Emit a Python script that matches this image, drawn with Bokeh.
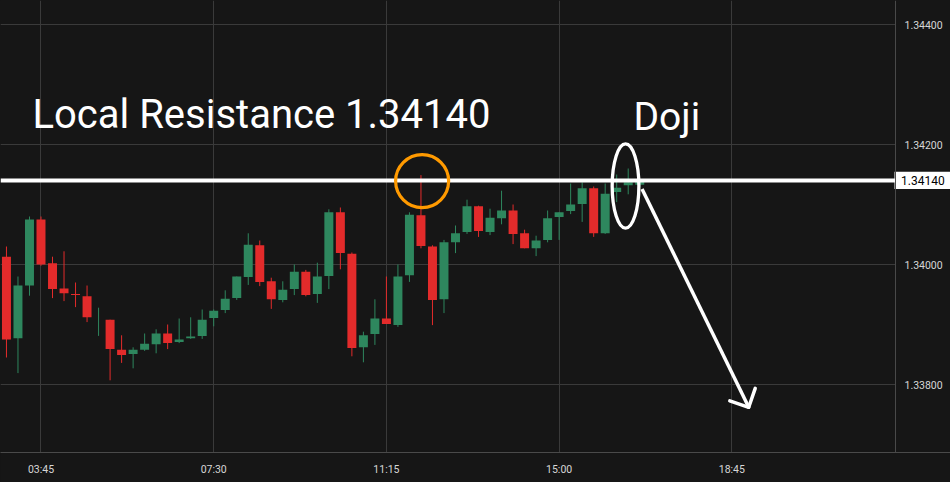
import numpy as np
from bokeh.plotting import figure
from bokeh.models import FixedTicker, Span, Label
from bokeh.core.properties import value
from bokeh.embed import file_html
from bokeh.resources import INLINE

# ---------------- data ----------------
times = ["03:00", "03:15", "03:30", "03:45", "04:00", "04:15", "04:30", "04:45",
         "05:00", "05:15", "05:30", "05:45", "06:00", "06:15", "06:30", "06:45",
         "07:00", "07:15", "07:30", "07:45", "08:00", "08:15", "08:30", "08:45",
         "09:00", "09:15", "09:30", "09:45", "10:00", "10:15", "10:30", "10:45",
         "11:00", "11:15", "11:30", "11:45", "12:00", "12:15", "12:30", "12:45",
         "13:00", "13:15", "13:30", "13:45", "14:00", "14:15", "14:30", "14:45",
         "15:00", "15:15", "15:30", "15:45", "16:00", "16:15", "16:30", "16:45"]
opens = [1.34013, 1.33877, 1.33965, 1.34075, 1.34002, 1.33960, 1.33951, 1.33947,
         1.33910, 1.33908, 1.33858, 1.33851, 1.33858, 1.33867, 1.33885, 1.33871,
         1.33877, 1.33881, 1.33911, 1.33924, 1.33944, 1.33979, 1.34032, 1.33972,
         1.33941, 1.33959, 1.33988, 1.33951, 1.33981, 1.34087, 1.34018, 1.33862,
         1.33884, 1.33910, 1.33899, 1.33982, 1.34082, 1.34030, 1.33942, 1.34037,
         1.34054, 1.34097, 1.34054, 1.34077, 1.34090, 1.34052, 1.34027, 1.34041,
         1.34079, 1.34089, 1.34101, 1.34127, 1.34052, 1.34121, 1.34132, 1.34133]
highs = [1.34030, 1.33980, 1.34080, 1.34080, 1.34013, 1.34022, 1.33970, 1.33965,
         1.33928, 1.33908, 1.33882, 1.33862, 1.33885, 1.33892, 1.33900, 1.33910,
         1.33912, 1.33925, 1.33925, 1.33957, 1.33980, 1.34052, 1.34040, 1.33978,
         1.33972, 1.34000, 1.33991, 1.34003, 1.34092, 1.34095, 1.34020, 1.33888,
         1.33942, 1.33980, 1.34000, 1.34087, 1.34149, 1.34032, 1.34041, 1.34065,
         1.34108, 1.34098, 1.34093, 1.34123, 1.34100, 1.34058, 1.34048, 1.34090,
         1.34087, 1.34135, 1.34137, 1.34130, 1.34135, 1.34150, 1.34160, 1.34142]
lows = [1.33845, 1.33819, 1.33948, 1.33998, 1.33944, 1.33939, 1.33929, 1.33904,
        1.33881, 1.33807, 1.33836, 1.33827, 1.33856, 1.33852, 1.33859, 1.33869,
        1.33876, 1.33876, 1.33897, 1.33919, 1.33941, 1.33966, 1.33964, 1.33926,
        1.33937, 1.33949, 1.33947, 1.33936, 1.33959, 1.33992, 1.33847, 1.33837,
        1.33866, 1.33901, 1.33896, 1.33971, 1.34027, 1.33899, 1.33919, 1.34019,
        1.34051, 1.34046, 1.34049, 1.34067, 1.34034, 1.34027, 1.34014, 1.34037,
        1.34041, 1.34084, 1.34071, 1.34046, 1.34051, 1.34104, 1.34117, 1.34130]
closes = [1.33875, 1.33965, 1.34075, 1.34000, 1.33959, 1.33952, 1.33949, 1.33912,
          1.33910, 1.33859, 1.33849, 1.33858, 1.33868, 1.33885, 1.33869, 1.33875,
          1.33880, 1.33908, 1.33923, 1.33943, 1.33980, 1.34033, 1.33971, 1.33942,
          1.33958, 1.33988, 1.33949, 1.33980, 1.34087, 1.34019, 1.33861, 1.33882,
          1.33910, 1.33901, 1.33980, 1.34083, 1.34031, 1.33941, 1.34037, 1.34052,
          1.34097, 1.34056, 1.34078, 1.34090, 1.34051, 1.34027, 1.34040, 1.34077,
          1.34087, 1.34100, 1.34127, 1.34052, 1.34118, 1.34128, 1.34137, 1.34138]

x_tick_labels = ["03:45", "07:30", "11:15", "15:00", "18:45"]
y_tick_values = [1.338, 1.340, 1.342, 1.344]

resistance = 1.34140
resistance_text = "Local Resistance 1.34140"
doji_text = "Doji"
touch_time = "12:00"          # candle that tested the resistance
doji_time_center = 986.5      # minutes, centre of the doji ellipse
doji_price_center = 1.341308
arrow_from = (1008.0, 1.34126)
arrow_to = (1147.0, 1.33762)

# ---------------- helpers ----------------
def to_min(t):
    hh, mm = t.split(":")
    return int(hh) * 60 + int(mm)

x = np.array([to_min(t) for t in times], dtype=float)
o = np.array(opens); c = np.array(closes); h = np.array(highs); l = np.array(lows)
GREEN = "#2e875e"
RED = "#e32b2b"
colors = [GREEN if cc >= oo else RED for oo, cc in zip(o, c)]

BG = "#161616"
GRID = "#3a3a3a"
AXC = "#4a4a4a"
TXT = "#d6d6d6"

W, FH, BOTTOM = 950, 452, 30
X0, X1 = 172.24, 1409.86
Y0, Y1 = 1.3368667, 1.3444
AXIS_X = 1338.2                      # price scale separator (minutes)
pxm = W / (X1 - X0)                  # px per minute
pxp = FH / (Y1 - Y0)                 # px per price unit

p = figure(frame_width=W, frame_height=FH, x_range=(X0, X1), y_range=(Y0, Y1),
           output_backend="svg", toolbar_location=None,
           min_border_left=0, min_border_top=0, min_border_right=0, min_border_bottom=BOTTOM,
           background_fill_color=BG, border_fill_color=BG)
p.outline_line_color = None
p.yaxis.visible = False
p.ygrid.visible = False

# time axis
xt = [to_min(t) for t in x_tick_labels]
p.xaxis.ticker = FixedTicker(ticks=xt)
p.xaxis.major_label_overrides = {v: s for v, s in zip(xt, x_tick_labels)}
ax = p.xaxis[0]
ax.axis_line_color = AXC
ax.major_tick_line_color = None
ax.minor_tick_line_color = None
ax.major_label_text_color = TXT
ax.major_label_text_font = "Roboto"
ax.major_label_text_font_size = "10.5px"
ax.major_label_standoff = 4
p.xgrid.grid_line_color = GRID
p.xgrid.ticker = FixedTicker(ticks=xt)

# price grid + price scale
p.segment(x0=[X0] * len(y_tick_values), y0=y_tick_values, x1=[AXIS_X] * len(y_tick_values),
          y1=y_tick_values, line_color=GRID, line_width=1)
p.add_layout(Span(location=AXIS_X, dimension="height", line_color=AXC, line_width=1))
p.text(x=[AXIS_X + 9 / pxm] * len(y_tick_values), y=y_tick_values,
       text=["%.5f" % v for v in y_tick_values], text_color=TXT,
       text_font=value("Roboto"), text_font_size="10.5px", text_baseline="middle",
       text_align="left")

# candles
body_w = 11.7
p.segment(x0=x, y0=h, x1=x, y1=l, line_color=colors, line_width=1)
p.vbar(x=x, width=body_w, top=np.maximum(o, c), bottom=np.minimum(o, c),
       fill_color=colors, line_color=None)

# resistance line
p.segment(x0=[X0], y0=[resistance], x1=[AXIS_X], y1=[resistance], line_color="white", line_width=4)

# price tag on the scale
p.quad(left=[AXIS_X - 1 / pxm], right=[X1], top=[resistance + 8.8 / pxp],
       bottom=[resistance - 8.6 / pxp], fill_color="white", line_color=None)
p.text(x=[AXIS_X + 5.5 / pxm], y=[resistance], text=["%.5f" % resistance], text_color="black",
       text_font=value("Roboto"), text_font_size="12px", text_baseline="middle", text_align="left")

# texts
p.add_layout(Label(x=32, y=338.3, x_units="screen", y_units="screen", text=resistance_text,
                   text_color="white", text_font="Roboto", text_font_size="40px",
                   text_baseline="alphabetic"))
p.add_layout(Label(x=633, y=335.5, x_units="screen", y_units="screen", text=doji_text,
                   text_color="white", text_font="Roboto", text_font_size="39px",
                   text_baseline="alphabetic"))

# orange circle on the resistance test
p.scatter(x=[to_min(touch_time) + 1.5], y=[resistance - 0.00001], size=53, marker="circle",
          fill_color=None, line_color="#ff9a00", line_width=3.2)

# doji ellipse
p.ellipse(x=[doji_time_center], y=[doji_price_center], width=34.8, height=0.001407,
          fill_color=None, line_color="white", line_width=3.3)

# arrow (shaft + open 45 degree head)
p.line([arrow_from[0], arrow_to[0]], [arrow_from[1], arrow_to[1]], line_color="white", line_width=3.5)
dx = (arrow_to[0] - arrow_from[0]) * pxm
dy = (arrow_to[1] - arrow_from[1]) * pxp
ang = np.arctan2(dy, dx)
L = 20.0
for s in (+1, -1):
    a = ang + np.pi + s * np.pi / 4
    hx = arrow_to[0] + L * np.cos(a) / pxm
    hy = arrow_to[1] + L * np.sin(a) / pxp
    p.line([arrow_to[0], hx], [arrow_to[1], hy], line_color="white", line_width=3.5,
           line_cap="round")

html = file_html(p, INLINE)
html = html.replace("<head>", "<head><style>body{background:#161616;}</style>", 1)
open("out.html", "w").write(html)
